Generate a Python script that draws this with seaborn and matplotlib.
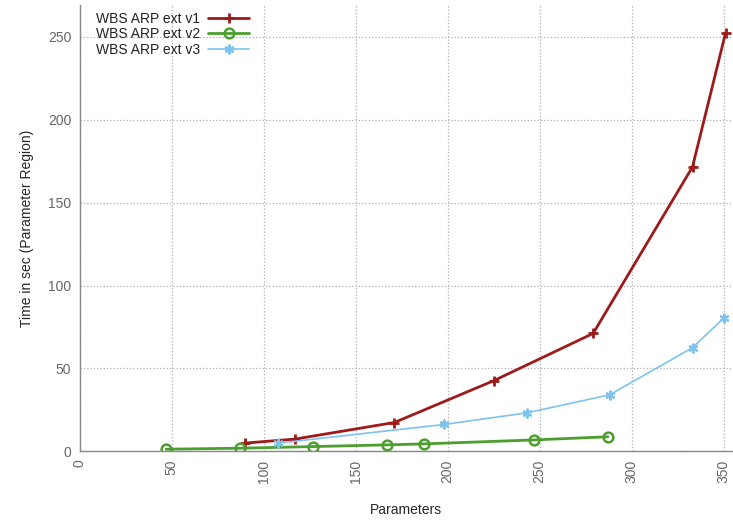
import pandas as pd
import matplotlib.pyplot as plt
import seaborn as sns

# values
v1_params = [90, 117, 171, 225, 279, 333, 351]
v1_time = [5.0, 7.4, 17.4, 42.6, 71.1, 171.5, 252.5]

v2_params = [47, 87, 127, 167, 187, 247, 287]
v2_time = [1.3, 1.9, 2.9, 3.9, 4.5, 6.9, 8.8]

v3_params = [108, 198, 243, 288, 333, 350]
v3_time = [5.0, 16.2, 23.2, 34.1, 62.5, 80.4]

labels = ["WBS ARP ext v1", "WBS ARP ext v2", "WBS ARP ext v3"]
colors = ["#9e1a1a", "#4c9e2e", "#7cc3ee"]

sns.set_style("white")
plt.rcParams['font.family'] = ['Liberation Sans', 'DejaVu Sans']

fig = plt.figure(figsize=(7.33, 5.2), dpi=100)
ax = fig.add_axes([0.1086, 0.132, 0.8914, 0.858])

df1 = pd.DataFrame({"Parameters": v1_params, "Time": v1_time})
df2 = pd.DataFrame({"Parameters": v2_params, "Time": v2_time})
df3 = pd.DataFrame({"Parameters": v3_params, "Time": v3_time})

sns.lineplot(data=df1, x="Parameters", y="Time", ax=ax, color=colors[0],
             linewidth=2, marker="+", markersize=6.5, markeredgewidth=2,
             markeredgecolor=colors[0], label=labels[0])
sns.lineplot(data=df2, x="Parameters", y="Time", ax=ax, color=colors[1],
             linewidth=2, marker="o", markersize=7, markeredgewidth=1.8,
             markerfacecolor="none", markeredgecolor=colors[1], label=labels[1])
sns.lineplot(data=df3, x="Parameters", y="Time", ax=ax, color=colors[2],
             linewidth=1.2, marker=(6, 2, 0), markersize=7, markeredgewidth=1.5,
             markeredgecolor=colors[2], label=labels[2])

ax.set_xlim(0, 355)
ax.set_ylim(0, 269)
ax.set_xticks(range(0, 351, 50))
ax.set_yticks(range(0, 251, 50))
ax.grid(True, color="#b0b0b0", linestyle=":", linewidth=0.9)

for side in ["top", "right"]:
    ax.spines[side].set_visible(False)
for side in ["left", "bottom"]:
    ax.spines[side].set_color("#888888")
    ax.spines[side].set_linewidth(1.0)

ax.tick_params(axis="both", direction="in", length=4, color="#888888",
               labelcolor="#666666", labelsize=10)
ax.tick_params(axis="x", rotation=90, pad=6)
ax.tick_params(axis="y", pad=6)

ax.set_xlabel("Parameters", fontsize=10, labelpad=14)
ax.set_ylabel("Time in sec (Parameter Region)", fontsize=10, labelpad=10)

leg = ax.legend(loc="upper left", bbox_to_anchor=(0.012, 1.004), frameon=False,
                markerfirst=False, fontsize=10, handlelength=2.9,
                labelspacing=0.1, handletextpad=0.6, borderaxespad=0.2)
for t in leg.get_texts():
    t.set_color("#222222")

plt.savefig("out.png", dpi=100)
